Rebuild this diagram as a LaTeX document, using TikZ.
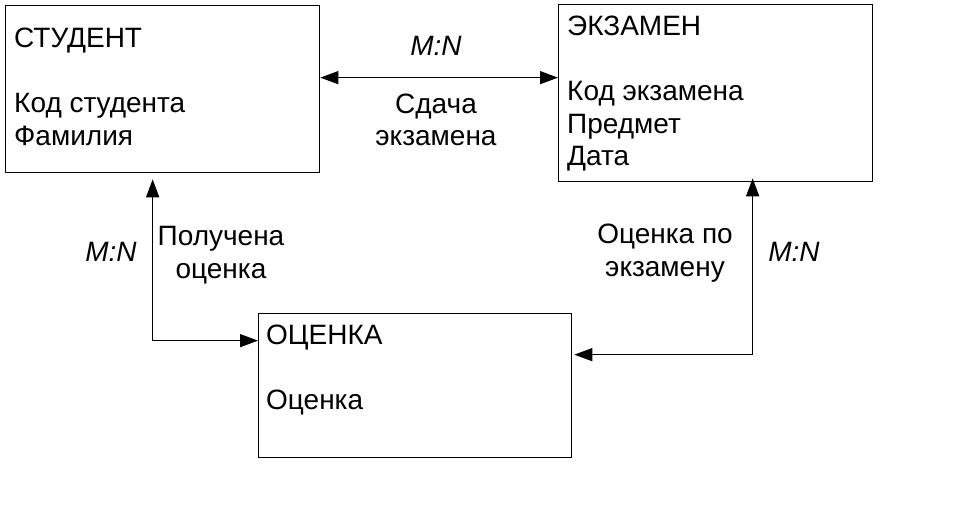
\documentclass[tikz,border=0pt]{standalone}
\usepackage{fontspec}
\setmainfont{Liberation Sans}
\usetikzlibrary{arrows.meta}
\tikzset{
  entity/.style={draw, line width=1.3pt, inner sep=0pt, anchor=north west},
  etext/.style={anchor=west, align=left, inner sep=0pt, font=\fontsize{28}{32.5}\selectfont},
  ltext/.style={align=center, inner sep=0pt, font=\fontsize{28}{32.5}\selectfont},
  card/.style={inner sep=0pt, font=\fontsize{28}{32}\selectfont\itshape},
  rel/.style={line width=1.3pt, {Triangle[length=18pt,width=13pt]}-{Triangle[length=18pt,width=13pt]}}
}
\begin{document}
\begin{tikzpicture}[x=1pt,y=-1pt]
\useasboundingbox[fill=white] (0,0) rectangle (960,521);
\node[entity, minimum width=314pt, minimum height=167pt] (stud) at (5,5) {};
\node[entity, minimum width=314pt, minimum height=177pt] (exam) at (558,4) {};
\node[entity, minimum width=313pt, minimum height=144pt] (ocen) at (258,313) {};
\node[etext] (studt) at (14,87) {СТУДЕНТ\\ \\ Код студента\\ Фамилия};
\node[etext] (examt) at (567,94) {ЭКЗАМЕН\\ \\ Код экзамена\\ Предмет\\ Дата};
\node[etext] (ocent) at (266,370) {ОЦЕНКА\\ \\ Оценка};
\draw[rel] ([yshift=11.5pt]stud.east) -- ([yshift=15.5pt]exam.west);
\draw[rel] ([xshift=-10pt,yshift=-6pt]stud.south) |- ([yshift=45pt]ocen.west);
\draw[rel] ([xshift=2pt,yshift=31pt]ocen.east) -| ([xshift=37pt,yshift=4pt]exam.south);
\node[card] (mn1) at (436,46) {M:N};
\node[card] (mn2) at (111,252) {M:N};
\node[card] (mn3) at (794,252) {M:N};
\node[ltext] (l1) at (436,120) {Сдача\\экзамена};
\node[ltext] (l2) at (221,255) {Получена\\оценка};
\node[ltext] (l3) at (665,253) {Оценка по\\экзамену};
\end{tikzpicture}
\end{document}
